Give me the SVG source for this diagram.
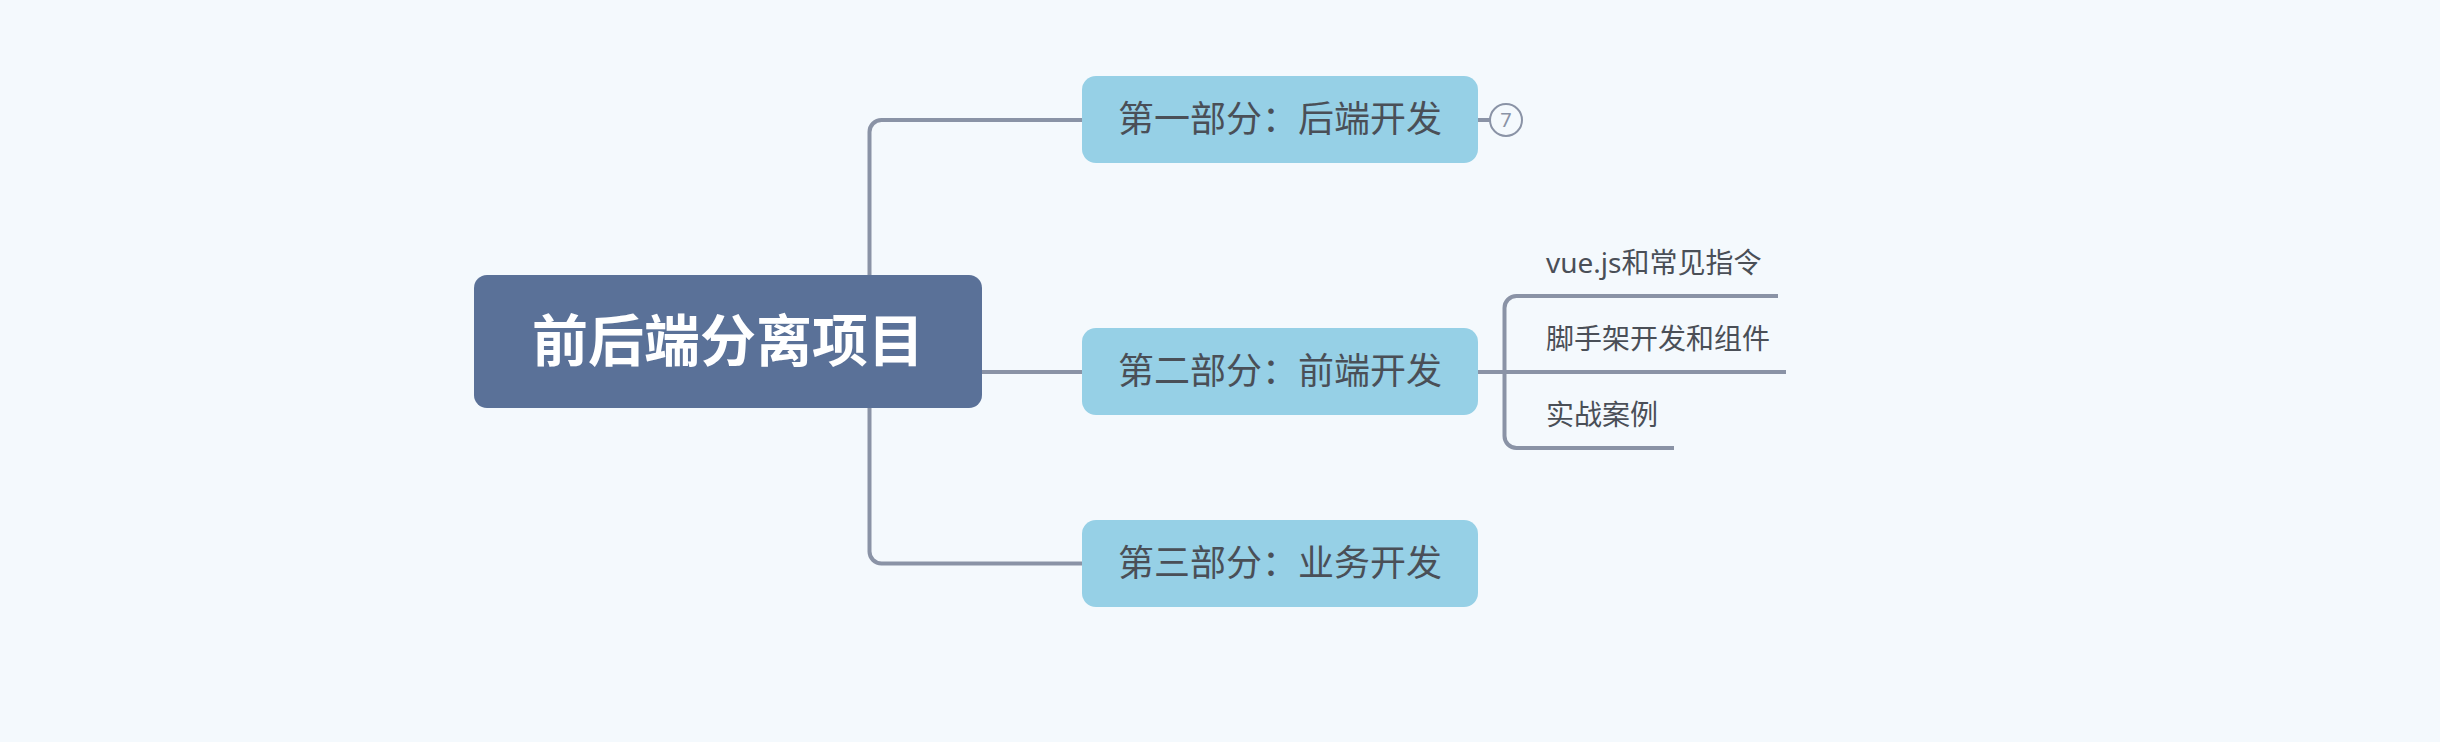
<svg xmlns="http://www.w3.org/2000/svg" width="2440" height="742" viewBox="0 0 2440 742">
  <style>
    .conn { fill: none; stroke: #8a93a6; stroke-width: 4; stroke-linecap: butt; }
    .root { fill: #5a7198; }
    .topic { fill: #96d0e6; }
    .roottext { font-family: "Noto Sans CJK SC", "Noto Sans", sans-serif; font-size: 56px; font-weight: bold; fill: #ffffff; text-anchor: middle; }
    .topictext { font-family: "Noto Sans CJK SC", "Noto Sans", sans-serif; font-size: 36px; fill: #4a4f57; text-anchor: middle; }
    .subtext { font-family: "Noto Sans", "Noto Sans CJK SC", sans-serif; font-size: 28px; fill: #4a4f57; }
    .badge { fill: #f4f9fd; stroke: #8a93a6; stroke-width: 2; }
    .badgetext { font-family: "Noto Sans", sans-serif; font-size: 20px; fill: #8a93a6; text-anchor: middle; }
  </style>
  <rect x="0" y="0" width="2440" height="742" fill="#f4f9fd"/>
  <g id="connectors">
    <path class="conn" d="M1082,120 H881.5 A12,12 0 0 0 869.5,132 V551.5 A12,12 0 0 0 881.5,563.5 H1082"/>
    <path class="conn" d="M982,372 H1082"/>
    <path class="conn" d="M1478,120 H1490"/>
    <path class="conn" d="M1478,372 H1786"/>
    <path class="conn" d="M1778,296 H1516.5 A12,12 0 0 0 1504.5,308 V436 A12,12 0 0 0 1516.5,448 H1674"/>
  </g>
  <g id="root">
    <rect class="root" x="474" y="275" width="508" height="133" rx="13"/>
    <text class="roottext" x="728" y="361">前后端分离项目</text>
  </g>
  <g id="topic1">
    <rect class="topic" x="1082" y="76" width="396" height="87" rx="14"/>
    <text class="topictext" x="1280" y="132">第一部分：后端开发</text>
  </g>
  <g id="badge1">
    <circle class="badge" cx="1506" cy="120" r="16"/>
    <text class="badgetext" x="1506" y="127">7</text>
  </g>
  <g id="topic2">
    <rect class="topic" x="1082" y="328" width="396" height="87" rx="14"/>
    <text class="topictext" x="1280" y="384">第二部分：前端开发</text>
  </g>
  <g id="topic3">
    <rect class="topic" x="1082" y="520" width="396" height="87" rx="14"/>
    <text class="topictext" x="1280" y="576">第三部分：业务开发</text>
  </g>
  <g id="sub1">
    <text class="subtext" x="1546" y="273">vue.js和常见指令</text>
  </g>
  <g id="sub2">
    <text class="subtext" x="1546" y="349">脚手架开发和组件</text>
  </g>
  <g id="sub3">
    <text class="subtext" x="1546" y="425">实战案例</text>
  </g>
</svg>
